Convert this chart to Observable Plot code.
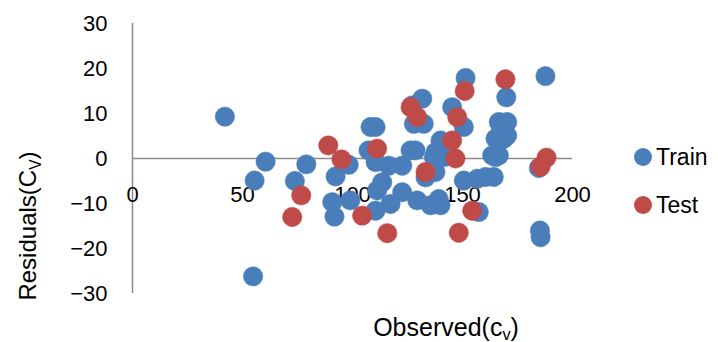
<!DOCTYPE html>
<html>
<head>
<meta charset="utf-8">
<script src="https://cdn.jsdelivr.net/npm/d3@7"></script>
<script src="https://cdn.jsdelivr.net/npm/@observablehq/plot@0.6"></script>
<style>
  html, body { margin: 0; padding: 0; background: #fff; }
  #wrap { position: relative; width: 718px; height: 342px; font-family: "Liberation Sans", Arial, sans-serif; color: #000; }
  #chart svg { display: block; }
  .ytitle { position: absolute; left: 28px; top: 226px; transform: translate(-50%, -50%) rotate(-90deg); white-space: nowrap; font-size: 24px; }
  .xtitle { position: absolute; left: 446px; top: 327px; transform: translate(-50%, -50%); white-space: nowrap; font-size: 25px; }
  .legend { position: absolute; left: 634px; top: 133px; font-size: 23px; }
  .legend .item { display: flex; align-items: center; height: 48px; }
  .legend .sw { width: 18px; height: 18px; border-radius: 50%; margin-right: 4px; }
  sub { font-size: 0.65em; vertical-align: -0.3em; line-height: 0; }
</style>
</head>
<body>
<div id="wrap">
  <div id="chart"></div>
  <div class="ytitle">Residuals(C<sub>V</sub>)</div>
  <div class="xtitle">Observed(c<sub>v</sub>)</div>
  <div class="legend" id="legend"></div>
</div>
<script>
// Observed value and residual for the training set
const trainObserved = [42, 60.5, 55.5, 54.8, 79, 73.8, 98.3, 92.3, 90.8, 91.8, 99,
  108.2, 110.5, 107.3, 110.5, 116.5, 122.6, 113.5, 111.2, 122.6, 117.3, 110.5,
  129.4, 135.5, 140, 139.2, 127.1, 131.7, 127.9, 132.4, 126.4, 128.6, 140, 137.7,
  137.7, 133.2, 151.4, 169.9, 145.3, 150.6, 166.5, 170.3, 165, 168.8, 170.3, 167.3,
  163.5, 166.5, 165, 150.6, 156.7, 160.5, 164.2, 157.4, 187.7, 184.7, 185.2, 185.5,
  141.5, 137];
const trainResidual = [9.3, -0.7, -4.9, -26.2, -1.3, -5, -1.4, -4, -9.7, -12.9, -9.3,
  7, 7, 1.8, -0.8, -1.6, -1.6, -5.3, -7.1, -7.5, -10.1, -11.6,
  -9.3, -10.4, -10.4, -9, 11.8, 13.3, 7.7, 7.7, 1.8, 1.8, 4, 1.4,
  -3, -4.2, 17.9, 13.6, 11.4, 7, 8.1, 8.1, 4.4, 4.4, 5.1, 5.9,
  0.7, 0.7, 0.3, -4.9, -4.5, -4.1, -4.1, -11.9, 18.3, -2.1, -16, -17.5,
  0.3, 0.3];

// Observed value and residual for the test set
const testObserved = [76.7, 72.6, 89, 95, 104.4, 111.2, 115.8, 126.4, 129.4, 133.2,
  151, 169.5, 147.6, 145.3, 146.8, 154.4, 148.3, 188.2, 185.5];
const testResidual = [-8.2, -13, 2.9, -0.2, -12.7, 2.2, -16.6, 11.4, 9.2, -3,
  15, 17.6, 9.2, 4, 0, -11.6, -16.5, 0.2, -1.8];

const xTicks = [0, 50, 100, 150, 200];
const yTicks = [-30, -20, -10, 0, 10, 20, 30];

const seriesNames = ["Train", "Test"];
const seriesColors = ["#4A7EBB", "#BE4B48"];

const train = trainObserved.map((x, i) => ({x, y: trainResidual[i]}));
const test = testObserved.map((x, i) => ({x, y: testResidual[i]}));

const axisGray = "#8C8C8C";

const chart = Plot.plot({
  width: 718,
  height: 342,
  marginLeft: 132,
  marginRight: 146,
  marginTop: 23,
  marginBottom: 49,
  style: {fontFamily: "Liberation Sans, Arial, sans-serif", background: "#fff", overflow: "visible"},
  x: {domain: [0, 200], axis: null},
  y: {domain: [-30, 30]},
  marks: [
    Plot.axisY({ticks: yTicks, tickSize: 0, tickPadding: 25, fontSize: 22, label: null}),
    Plot.ruleX([0], {y1: -30, y2: 30, stroke: axisGray, strokeWidth: 1.5}),
    Plot.ruleY([0], {x1: 0, x2: 200, stroke: axisGray, strokeWidth: 1.5}),
    // x tick labels sit just under the zero line, where the x axis crosses
    Plot.text(xTicks, {x: d => d, y: 0, text: d => String(d), dy: 36, fontSize: 22, fill: "#000"}),
    Plot.dot(train, {x: "x", y: "y", r: 9.7, fill: seriesColors[0], stroke: seriesColors[0], strokeWidth: 0.5}),
    Plot.dot(test, {x: "x", y: "y", r: 9.7, fill: seriesColors[1], stroke: seriesColors[1], strokeWidth: 0.5})
  ]
});
document.getElementById("chart").appendChild(chart);

const legend = document.getElementById("legend");
seriesNames.forEach((name, i) => {
  const item = document.createElement("div");
  item.className = "item";
  item.innerHTML = `<span class="sw" style="background:${seriesColors[i]}"></span><span>${name}</span>`;
  legend.appendChild(item);
});
</script>
</body>
</html>
